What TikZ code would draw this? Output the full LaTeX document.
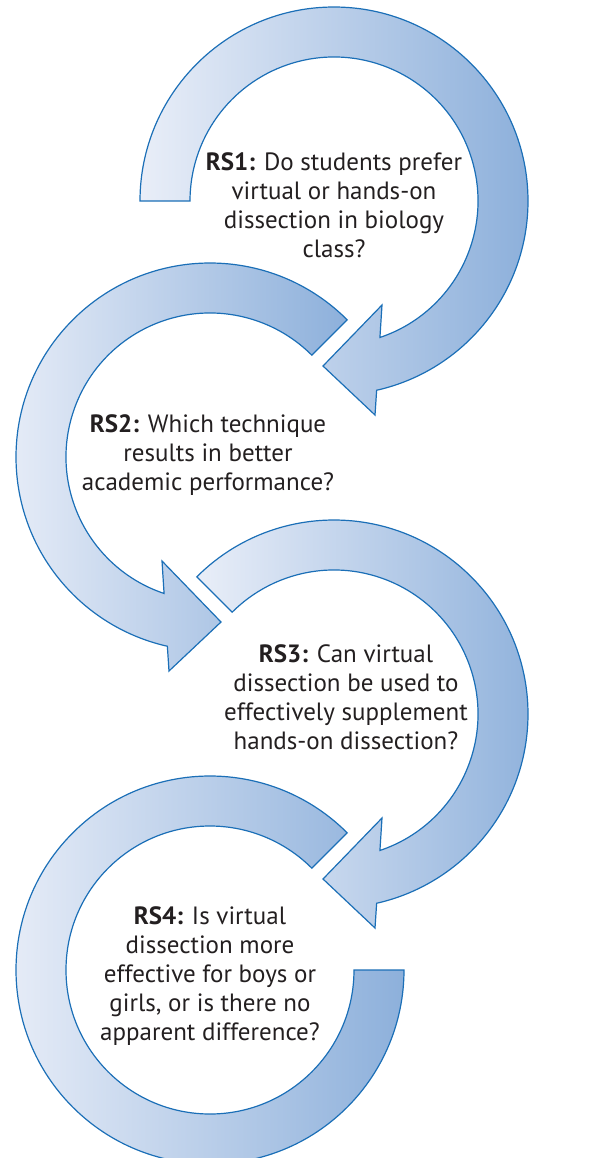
\documentclass[tikz,border=0pt]{standalone}
\usepackage{fontspec}
\setmainfont{PT Sans}
\usepackage{xcolor}
\definecolor{ringlight}{HTML}{E9EEF8}
\definecolor{ringdark}{HTML}{8DB0DB}
\definecolor{ringline}{HTML}{1B6FB7}
\definecolor{qtext}{HTML}{231F20}

\begin{document}
\begin{tikzpicture}[x=0.5pt,y=0.5pt,
    ring/.style={draw=ringline, line width=0.6pt, left color=ringlight, right color=ringdark},
    question/.style={align=center, text=qtext, inner sep=0pt,
      font=\fontsize{12.5}{14.5}\selectfont}]
  \useasboundingbox (0,0) rectangle (616,-1158);

  % RS1 ring: clockwise from the left end, head at the bottom
  \begin{scope}[shift={(334,-201)}]
    \path[ring] (180:144) -- (180:194) arc[start angle=180, end angle=-77.3, radius=194]
      -- (41,-214) -- (-11,-165) -- (48,-104) -- (-71.4:144)
      arc[start angle=-71.4, end angle=180, radius=144] -- cycle;
  \end{scope}

  % RS2 ring: anticlockwise from the top right, head at the bottom
  \begin{scope}[shift={(210,-457)}]
    \path[ring] (45:144) -- (45:194) arc[start angle=45, end angle=257.3, radius=194]
      -- (-41,-214) -- (11,-165) -- (-48,-104) -- (251.4:144)
      arc[start angle=251.4, end angle=45, radius=144] -- cycle;
  \end{scope}

  % RS3 ring: clockwise from the top left
  \begin{scope}[shift={(334,-714)}]
    \path[ring] (135:144) -- (135:194) arc[start angle=135, end angle=-77.3, radius=194]
      -- (41,-214) -- (-11,-165) -- (48,-104) -- (-71.4:144)
      arc[start angle=-71.4, end angle=135, radius=144] -- cycle;
  \end{scope}

  % RS4 ring, open, no head
  \begin{scope}[shift={(210,-970)}]
    \path[ring] (45:144) -- (45:194) arc[start angle=45, end angle=360, radius=194]
      -- (0:144) arc[start angle=360, end angle=45, radius=144] -- cycle;
  \end{scope}

  % the four questions
  \node[question] (rs1) at (334,-205) {\textbf{RS1:} Do students prefer\\virtual or hands-on\\dissection in biology\\class?};
  \node[question] (rs2) at (208,-455) {\textbf{RS2:} Which technique\\results in better\\academic performance?};
  \node[question] (rs3) at (346,-697) {\textbf{RS3:} Can virtual\\dissection be used to\\effectively supplement\\hands-on dissection?};
  \node[question] (rs4) at (210,-976) {\textbf{RS4:} Is virtual\\dissection more\\effective for boys or\\girls, or is there no\\apparent difference?};
\end{tikzpicture}
\end{document}
